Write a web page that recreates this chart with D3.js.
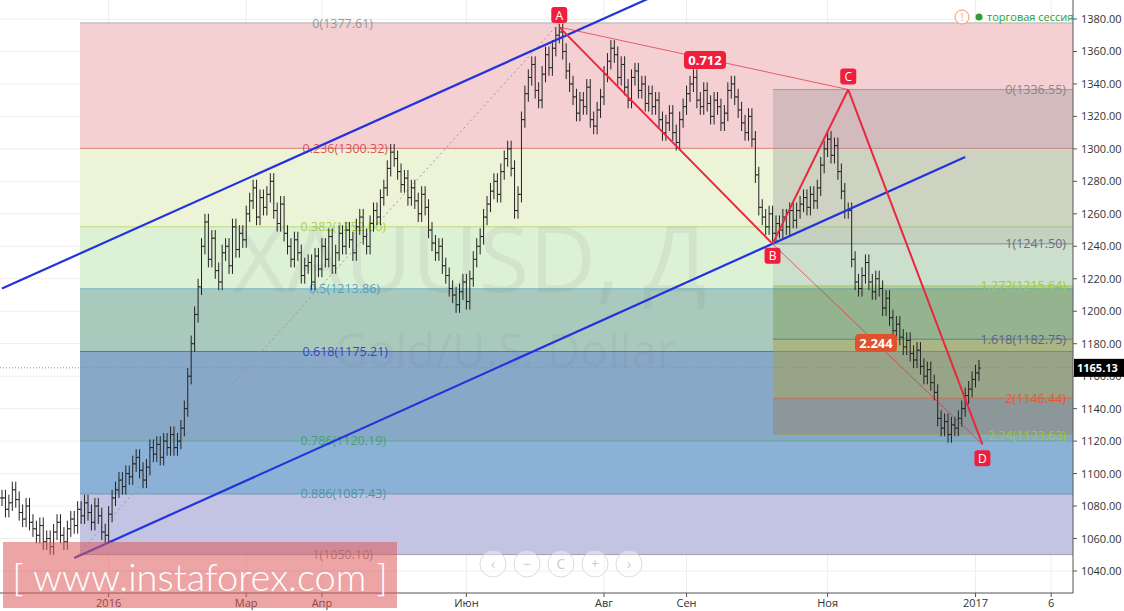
<!DOCTYPE html>
<html><head><meta charset="utf-8">
<script src="https://cdn.jsdelivr.net/npm/d3@7"></script>
<style>body{margin:0;background:#fff;font-family:"Open Sans","DejaVu Sans",sans-serif}</style>
</head><body><svg id="c" width="1124" height="611"></svg>
<script>
const closes=[1085,1078,1082,1090,1084,1076,1072,1080,1070,1066,
1062,1068,1058,1060,1055,1064,1070,1062,1058,1066,
1072,1068,1078,1074,1082,1076,1070,1080,1074,1064,
1062,1075,1085,1090,1096,1092,1100,1098,1106,1110,
1102,1096,1104,1116,1112,1118,1110,1120,1116,1124,
1116,1120,1128,1140,1160,1180,1198,1215,1240,1255,
1232,1245,1225,1218,1236,1240,1228,1252,1238,1248,
1244,1260,1268,1276,1258,1270,1264,1272,1280,1262,
1254,1266,1248,1240,1232,1244,1236,1222,1228,1230,
1218,1234,1226,1240,1232,1246,1228,1236,1248,1240,
1250,1244,1236,1252,1258,1246,1240,1254,1262,1258,
1270,1276,1288,1298,1294,1286,1278,1282,1270,1276,
1268,1260,1272,1264,1250,1242,1236,1240,1228,1222,
1214,1210,1204,1212,1218,1206,1220,1232,1240,1246,
1258,1266,1274,1280,1272,1286,1294,1300,1288,1262,
1272,1318,1334,1344,1352,1336,1330,1346,1358,1350,
1362,1370,1372,1360,1348,1340,1332,1322,1330,1326,
1338,1318,1314,1324,1332,1346,1354,1362,1358,1344,
1352,1338,1330,1344,1348,1336,1340,1328,1334,1326,
1330,1318,1310,1316,1322,1310,1304,1318,1326,1334,
1340,1344,1330,1326,1336,1328,1320,1330,1326,1316,
1322,1336,1340,1332,1324,1316,1310,1320,1306,1284,
1264,1258,1252,1260,1248,1254,1250,1258,1252,1262,
1256,1262,1266,1270,1264,1272,1268,1276,1290,1300,
1306,1296,1302,1286,1274,1262,1262,1232,1218,1214,
1222,1230,1218,1212,1220,1214,1202,1208,1196,1188,
1192,1184,1178,1182,1174,1170,1176,1166,1160,1164,
1156,1150,1134,1128,1132,1124,1130,1128,1134,1140,
1148,1152,1158,1162,1165];
const xTickLabels=["2016","Мар","Апр","Июн","Авг","Сен","Ноя","2017","6"];
const xTickIdx=[31,71,93,135,175,199,240,283,305];
const yTicks=[1040,1060,1080,1100,1120,1140,1160,1180,1200,1220,1240,1260,1280,1300,1320,1340,1360,1380];
const fibLevels=[1377.61,1300.32,1252.0,1213.86,1175.21,1120.19,1087.43,1050.10];
const fibRatios=["0","0.236","0.382","0.5","0.618","0.786","0.886","1"];
const fibColors=["#888","#d23b3b","#9acd32","#3a9bc8","#2b2bc8","#3a9b6b","#3a8f9b","#777"];
const fibFills=["#f4d0d3","#edf3d7","#ddf1d5","#a9c9bd","#87a8c7","#8cb1d6","#c3c3e3"];
const fib2Levels=[1336.55,1241.50,1215.64,1182.75,1146.44,1123.63];
const fib2Ratios=["0","1","1.272","1.618","2","2.24"];
const fib2Colors=["#888","#6a6f8a","#9acd32","#5a6095","#e05a3a","#9acd32"];
const fib2Fills=["rgba(150,150,150,0.35)","rgba(150,170,180,0.25)","rgba(110,140,60,0.35)","rgba(170,160,60,0.45)","rgba(150,120,70,0.35)"];
const pts={A:[162,1375],B:[224,1241.5],C:[246,1336.55],D:[285,1118]};
const chan1=[[0,1214],[187,1391.7]];
const chan2=[[21,1048],[280,1295]];
const lastPrice=1165.13;

const svg=d3.select("#c");
const R=1073,B=593;
const x=d3.scaleLinear().domain([0,1]).range([2,5.44]);
const y=d3.scaleLinear().domain([1040,1380]).range([571,19]);
svg.append("clipPath").attr("id","cl").append("rect").attr("width",R).attr("height",B);
const g=svg.append("g").attr("clip-path","url(#cl)");
yTicks.forEach(t=>g.append("line").attr("x1",0).attr("x2",R).attr("y1",y(t)).attr("y2",y(t)).attr("stroke","#eee"));
xTickIdx.forEach(t=>g.append("line").attr("x1",x(t)).attr("x2",x(t)).attr("y1",0).attr("y2",B).attr("stroke","#eee"));
for(let i=0;i<fibFills.length;i++) g.append("rect").attr("x",80).attr("width",R-80).attr("y",y(fibLevels[i])).attr("height",y(fibLevels[i+1])-y(fibLevels[i])).attr("fill",fibFills[i]);
fibLevels.forEach((v,i)=>{g.append("line").attr("x1",80).attr("x2",R).attr("y1",y(v)).attr("y2",y(v)).attr("stroke",fibColors[i]).attr("stroke-opacity",0.6);
 g.append("text").attr("x",[373,388,386,380,388,386,386,373][i]).attr("y",y(v)+4.5+(i==0?1:0)).attr("text-anchor","end").attr("font-size",12.5).attr("fill",fibColors[i]).attr("fill-opacity",0.85).text(`${fibRatios[i]}(${v.toFixed(2)})`);});
g.append("text").attr("x",470).attr("y",292).attr("text-anchor","middle").attr("font-size",92).attr("fill","rgba(120,120,120,0.10)").text("XAUUSD, Д");
g.append("text").attr("x",505).attr("y",367).attr("text-anchor","middle").attr("font-size",46).attr("fill","rgba(120,120,120,0.10)").text("Gold/U.S. Dollar");
const x2=773;
for(let i=0;i<fib2Fills.length;i++) g.append("rect").attr("x",x2).attr("width",R-x2).attr("y",y(fib2Levels[i])).attr("height",y(fib2Levels[i+1])-y(fib2Levels[i])).attr("fill",fib2Fills[i]);
fib2Levels.forEach((v,i)=>{g.append("line").attr("x1",x2).attr("x2",R).attr("y1",y(v)).attr("y2",y(v)).attr("stroke",fib2Colors[i]).attr("stroke-opacity",0.7);
 g.append("text").attr("x",1066).attr("y",y(v)+4.5).attr("text-anchor","end").attr("font-size",12.5).attr("fill",fib2Colors[i]).text(`${fib2Ratios[i]}(${v.toFixed(2)})`);});
g.append("line").attr("x1",x(22)).attr("y1",y(1050.1)).attr("x2",x(162)).attr("y2",y(1377.61)).attr("stroke","#999").attr("stroke-dasharray","2,3");
g.append("line").attr("x1",0).attr("x2",R).attr("y1",y(lastPrice)).attr("y2",y(lastPrice)).attr("stroke","#888").attr("stroke-dasharray","1,2");
closes.forEach((c,i)=>{const o=i?closes[i-1]:c;const hi=Math.max(o,c)+5,lo=Math.min(o,c)-5;const cx=x(i);
 g.append("line").attr("x1",cx).attr("x2",cx).attr("y1",y(hi)).attr("y2",y(lo)).attr("stroke","#222");
 g.append("line").attr("x1",cx-2).attr("x2",cx).attr("y1",y(o)).attr("y2",y(o)).attr("stroke","#222");
 g.append("line").attr("x1",cx).attr("x2",cx+2).attr("y1",y(c)).attr("y2",y(c)).attr("stroke","#222");});
[chan1,chan2].forEach((c,k)=>{const s=(c[1][1]-c[0][1])/(c[1][0]-c[0][0]);const e=k?c[1][0]:c[1][0]+20;
 g.append("line").attr("x1",x(c[0][0])).attr("y1",y(c[0][1])).attr("x2",x(e)).attr("y2",y(c[0][1]+s*(e-c[0][0]))).attr("stroke","#2233dd").attr("stroke-width",2.2);});
const P=k=>[x(pts[k][0]),y(pts[k][1])];
[["A","C",1],["B","D",1],["A","B",2],["B","C",2],["C","D",2]].forEach(([a,b,w])=>g.append("line").attr("x1",P(a)[0]).attr("y1",P(a)[1]).attr("x2",P(b)[0]).attr("y2",P(b)[1]).attr("stroke","#e8283c").attr("stroke-width",w).attr("stroke-opacity",w==1?0.7:1));
[["A",0,-12],["B",0,12],["C",0,-13],["D",0,14]].forEach(([k,dx,dy])=>{const p=P(k);
 g.append("rect").attr("x",p[0]+dx-8).attr("y",p[1]+dy-8).attr("width",16).attr("height",16).attr("rx",3).attr("fill","#f01e3c");
 g.append("text").attr("x",p[0]+dx).attr("y",p[1]+dy+4.5).attr("text-anchor","middle").attr("font-size",12).attr("fill","#fff").text(k);});
[["0.712",705,60,"#f01e3c"],["2.244",876,343,"#e0522e"]].forEach(([t,cx,cy,col])=>{g.append("rect").attr("x",cx-21).attr("y",cy-9).attr("width",42).attr("height",18).attr("rx",4).attr("fill",col);
 g.append("text").attr("x",cx).attr("y",cy+5).attr("text-anchor","middle").attr("font-size",13).attr("font-weight","bold").attr("fill","#fff").text(t);});
["‹","−","C","+","›"].forEach((t,i)=>{const cx=493+i*34;g.append("circle").attr("cx",cx).attr("cy",564).attr("r",13).attr("fill","rgba(255,255,255,0.4)").attr("stroke","#ddd");
 g.append("text").attr("x",cx).attr("y",569).attr("text-anchor","middle").attr("font-size",14).attr("fill","#ccc").text(t);});
svg.append("line").attr("x1",0).attr("x2",R).attr("y1",B).attr("y2",B).attr("stroke","#555");
svg.append("line").attr("x1",R).attr("x2",R).attr("y1",0).attr("y2",B).attr("stroke","#555");
yTicks.forEach(t=>{svg.append("line").attr("x1",R).attr("x2",R+4).attr("y1",y(t)).attr("y2",y(t)).attr("stroke","#555");
 svg.append("text").attr("x",R+8).attr("y",y(t)+4).attr("font-size",11).attr("fill","#333").text(t.toFixed(2));});
xTickIdx.forEach((t,i)=>{svg.append("line").attr("x1",x(t)).attr("x2",x(t)).attr("y1",B).attr("y2",B+4).attr("stroke","#555");
 svg.append("text").attr("x",x(t)).attr("y",607).attr("text-anchor","middle").attr("font-size",11).attr("fill","#333").text(xTickLabels[i]);});
svg.append("rect").attr("x",R+1).attr("y",y(lastPrice)-9).attr("width",51).attr("height",18).attr("fill","#000");
svg.append("text").attr("x",R+4).attr("y",y(lastPrice)+4).attr("font-size",11).attr("font-weight","bold").attr("fill","#fff").text(lastPrice.toFixed(2));
svg.append("circle").attr("cx",962).attr("cy",17).attr("r",7).attr("fill","#fff").attr("stroke","#f59a5a");
svg.append("text").attr("x",962).attr("y",21).attr("text-anchor","middle").attr("font-size",10).attr("fill","#f59a5a").text("!");
svg.append("circle").attr("cx",979).attr("cy",17).attr("r",3.5).attr("fill","#2ca02c");
svg.append("text").attr("x",987).attr("y",21).attr("font-size",11).attr("fill","#2ca02c").text("торговая сессия");
svg.append("rect").attr("x",3).attr("y",542).attr("width",394).attr("height",66).attr("fill","rgba(222,90,90,0.55)");
svg.append("text").attr("x",200).attr("y",591).attr("text-anchor","middle").attr("font-size",38).attr("font-family","Lato").attr("font-weight",300).attr("fill","#fff").text("[ www.instaforex.com ]");
</script></body></html>
